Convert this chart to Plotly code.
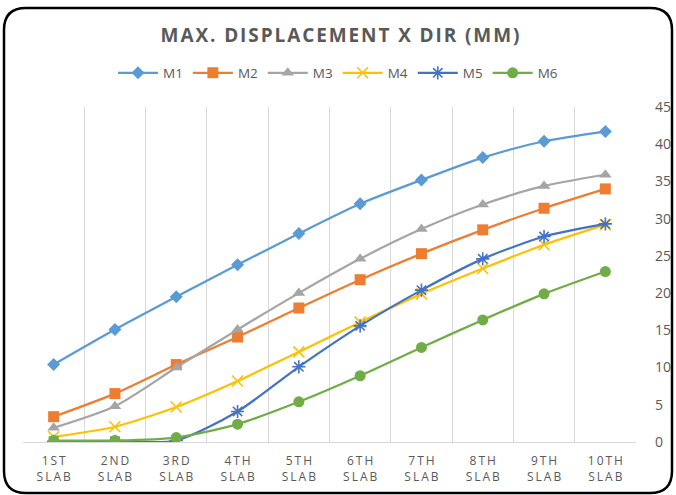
import plotly.graph_objects as go

categories = ["1ST SLAB", "2ND SLAB", "3RD SLAB", "4TH SLAB", "5TH SLAB",
              "6TH SLAB", "7TH SLAB", "8TH SLAB", "9TH SLAB", "10TH SLAB"]
series_names = ["M1", "M2", "M3", "M4", "M5", "M6"]
m1 = [10.4, 15.1, 19.5, 23.8, 28.0, 32.0, 35.2, 38.2, 40.4, 41.7]
m2 = [3.4, 6.5, 10.4, 14.1, 18.0, 21.8, 25.3, 28.5, 31.4, 34.0]
m3 = [1.9, 4.8, 10.0, 15.1, 20.0, 24.6, 28.6, 31.9, 34.4, 35.9]
m4 = [0.7, 2.05, 4.7, 8.2, 12.1, 16.1, 19.9, 23.3, 26.5, 29.2]
m5 = [0.1, 0.1, 0.2, 4.1, 10.1, 15.6, 20.4, 24.6, 27.6, 29.3]
m6 = [0.2, 0.2, 0.6, 2.4, 5.4, 8.9, 12.7, 16.4, 19.9, 22.9]
y_ticks = [0, 5, 10, 15, 20, 25, 30, 35, 40, 45]
title_text = "MAX. DISPLACEMENT X DIR (MM)"

colors = ["#5B9BD5", "#ED7D31", "#A5A5A5", "#FFC000", "#4472C4", "#70AD47"]
symbols = ["diamond", "square", "triangle-up", "x-thin-open", "asterisk-open", "circle"]
sizes = [10, 11, 11, 11, 11, 11]
all_vals = [m1, m2, m3, m4, m5, m6]

THIN = "\u2009"
HAIR = "\u200A"

def spaced(word, sep=THIN):
    return sep.join(list(word))

tick_text = ["<br>".join(spaced(w) for w in c.split(" ")) for c in categories]

fig = go.Figure()
for name, vals, col, sym, sz in zip(series_names, all_vals, colors, symbols, sizes):
    fig.add_trace(go.Scatter(
        x=categories, y=vals, name=name, mode="lines+markers",
        line=dict(color=col, width=2.25, shape="spline", smoothing=0.7),
        marker=dict(symbol=sym, size=sz, color=col,
                    line=dict(color=col, width=1.6 if sym in ("x-thin-open", "asterisk-open") else 0)),
    ))

W, H = 676, 495
L, R, T, B = 23, 40, 107, 53
pw, ph = W - L - R, H - T - B

def px2paper(x, y):
    return ((x - L) / pw, (H - B - y) / ph)

# rounded border
x0, y0, x1, y1, rad = 4, 8, 672, 493, 22
def P(x, y):
    a, b = px2paper(x, y)
    return f"{a:.5f},{b:.5f}"
path = (f"M {P(x0+rad, y0)} L {P(x1-rad, y0)} Q {P(x1, y0)} {P(x1, y0+rad)} "
        f"L {P(x1, y1-rad)} Q {P(x1, y1)} {P(x1-rad, y1)} "
        f"L {P(x0+rad, y1)} Q {P(x0, y1)} {P(x0, y1-rad)} "
        f"L {P(x0, y0+rad)} Q {P(x0, y0)} {P(x0+rad, y0)} Z")
fig.add_shape(type="path", path=path, xref="paper", yref="paper",
              line=dict(color="black", width=2.5), layer="above")

fig.update_layout(
    width=W, height=H,
    margin=dict(l=L, r=R, t=T, b=B, autoexpand=False),
    paper_bgcolor="white", plot_bgcolor="white",
    font=dict(family="Open Sans, sans-serif", color="#595959"),
    title=dict(text="<b>" + spaced(title_text, HAIR) + "</b>", x=340 / W, xanchor="center",
               y=1 - 35 / H, yanchor="middle", font=dict(size=19, color="#595959")),
    legend=dict(orientation="h", x=(338 - L) / pw, xanchor="center",
                y=(H - B - 73) / ph, yanchor="middle",
                font=dict(size=13.5, color="#595959"), itemwidth=40,
                bgcolor="rgba(0,0,0,0)"),
    showlegend=True,
)
fig.update_xaxes(
    type="category", tickmode="array", tickvals=categories, ticktext=tick_text,
    range=[-0.5, 9.5], tickson="boundaries", showgrid=True, gridcolor="#D9D9D9",
    gridwidth=1, showline=True, linecolor="#D9D9D9", linewidth=1, ticks="",
    tickfont=dict(size=12, color="#595959"), zeroline=False, ticklabelstandoff=8,
    automargin=False,
)
fig.update_yaxes(
    side="right", range=[0, 45], tickvals=y_ticks, showgrid=False, zeroline=False,
    showline=False, ticks="", tickfont=dict(size=14, color="#595959"),
    ticklabelstandoff=18, automargin=False,
)
fig.write_html("out.html", config={"displayModeBar": False},
               post_script="document.body.style.margin='0';")
